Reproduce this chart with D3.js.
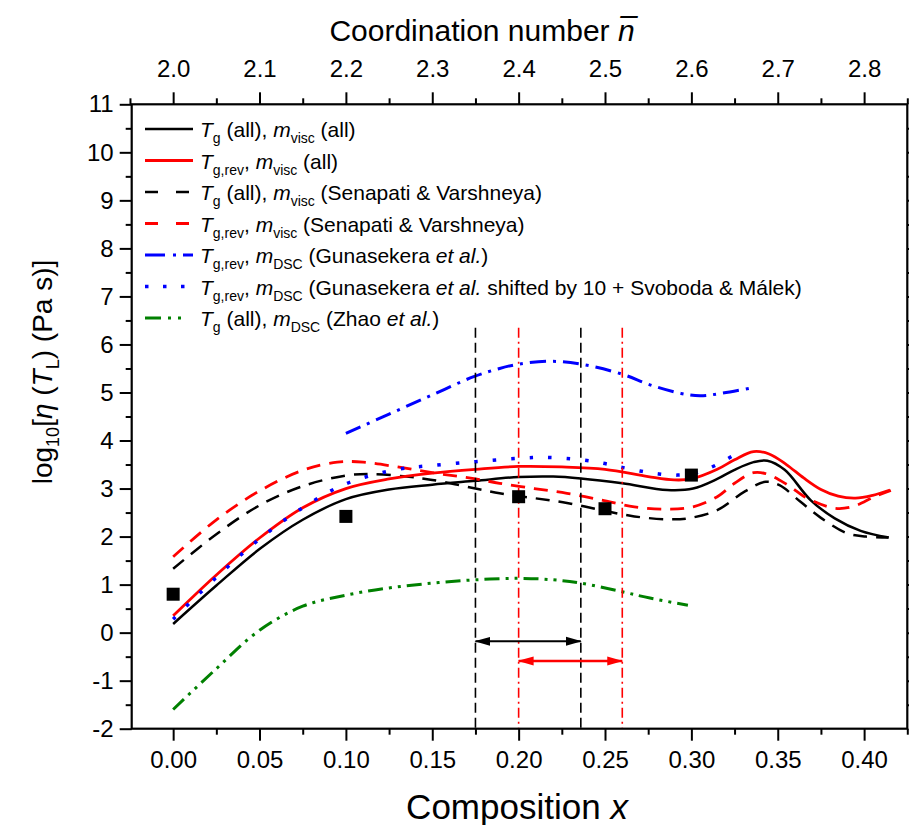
<!DOCTYPE html>
<html><head><meta charset="utf-8">
<script src="https://cdn.jsdelivr.net/npm/d3@7"></script>
<style>
body{margin:0;background:#fff;}
text{font-family:Arial,"Liberation Sans",sans-serif;fill:#000;}
</style></head>
<body><svg id="c" width="909" height="825"></svg>
<script>
// ---- data ----
const xTicks = [0.00,0.05,0.10,0.15,0.20,0.25,0.30,0.35,0.40];
const nTicks = [2.0,2.1,2.2,2.3,2.4,2.5,2.6,2.7,2.8];
const yTicks = [-2,-1,0,1,2,3,4,5,6,7,8,9,10,11];

const tgAllViscAll = [[0,0.18],[0.025,0.98],[0.05,1.74],[0.075,2.35],[0.1,2.78],[0.125,2.98],[0.15,3.08],[0.175,3.16],[0.2,3.24],[0.22,3.25],[0.236,3.21],[0.26,3.11],[0.286,2.97],[0.301,3.0],[0.315,3.2],[0.325,3.39],[0.336,3.55],[0.344,3.58],[0.354,3.39],[0.369,2.76],[0.383,2.38],[0.398,2.12],[0.4143,1.98]];
const tgRevViscAll = [[0,0.35],[0.025,1.2],[0.05,1.97],[0.075,2.6],[0.1,3.0],[0.125,3.2],[0.15,3.32],[0.175,3.4],[0.2,3.46],[0.225,3.45],[0.25,3.4],[0.275,3.25],[0.29,3.18],[0.3,3.2],[0.315,3.4],[0.325,3.6],[0.336,3.77],[0.345,3.72],[0.355,3.5],[0.365,3.22],[0.375,2.98],[0.385,2.84],[0.395,2.8],[0.405,2.86],[0.415,2.97]];
const tgAllViscSV = [[0,1.33],[0.025,2.05],[0.05,2.65],[0.075,3.05],[0.1,3.27],[0.115,3.3],[0.135,3.25],[0.15,3.18],[0.175,3.0],[0.189,2.9],[0.209,2.8],[0.228,2.7],[0.248,2.55],[0.267,2.42],[0.286,2.36],[0.298,2.38],[0.315,2.55],[0.331,2.94],[0.343,3.14],[0.351,3.07],[0.363,2.73],[0.375,2.39],[0.39,2.07],[0.401,2.0],[0.414,1.98]];
const tgRevViscSV = [[0,1.58],[0.025,2.35],[0.05,2.95],[0.075,3.38],[0.095,3.55],[0.11,3.55],[0.13,3.45],[0.15,3.33],[0.175,3.2],[0.189,3.11],[0.209,3.0],[0.228,2.9],[0.248,2.76],[0.267,2.62],[0.286,2.57],[0.301,2.62],[0.315,2.83],[0.325,3.11],[0.336,3.33],[0.344,3.3],[0.356,3.07],[0.367,2.8],[0.383,2.59],[0.394,2.63],[0.406,2.83],[0.4155,2.96]];
const tgRevDscGun = [[0.1,4.15],[0.125,4.55],[0.15,4.95],[0.174,5.33],[0.189,5.5],[0.2,5.59],[0.218,5.65],[0.236,5.59],[0.26,5.38],[0.276,5.16],[0.294,4.98],[0.305,4.93],[0.317,4.98],[0.334,5.09]];
const tgRevDscGunShift = [[0,0.28],[0.025,1.15],[0.05,1.95],[0.075,2.6],[0.1,3.1],[0.13,3.4],[0.15,3.48],[0.175,3.56],[0.2,3.63],[0.215,3.65],[0.236,3.6],[0.25,3.52],[0.26,3.44],[0.276,3.33],[0.292,3.28],[0.305,3.35],[0.317,3.54],[0.328,3.77]];
const tgAllDscZhao = [[0,-1.6],[0.025,-0.75],[0.05,0.05],[0.075,0.55],[0.1,0.78],[0.125,0.93],[0.15,1.03],[0.175,1.1],[0.2,1.13],[0.22,1.1],[0.236,1.03],[0.26,0.85],[0.276,0.72],[0.298,0.57]];
const expPoints = [[0,0.8],[0.1,2.42],[0.2,2.83],[0.25,2.58],[0.3,3.28]];
const rangeBlack = [0.175,0.236];
const rangeRed = [0.2,0.26];
const arrowLevels = [-0.18,-0.59];
const guideTop = 6.35;

// ---- layout ----
const L=131.7, R=907.3, T=104.3, B=728.7;
const svg=d3.select("#c");
const x=d3.scaleLinear().domain([-0.024,0.425]).range([L,R]);
const n=d3.scaleLinear().domain([2-0.048,2.85]).range([L,R]);
const y=d3.scaleLinear().domain([-2,11]).range([B,T]);

const defs=svg.append("defs");
function mk(id,color){
  defs.append("marker").attr("id",id).attr("viewBox","0 0 16 10").attr("refX",15).attr("refY",5)
   .attr("markerUnits","userSpaceOnUse").attr("markerWidth",16).attr("markerHeight",10).attr("orient","auto-start-reverse")
   .append("path").attr("d","M0,0.5 L16,5 L0,9.5 Z").attr("fill",color);
}
mk("ab","#000"); mk("ar","#ff0000");

const series=[
 {d:tgAllViscAll,c:"#000",w:2.5,da:null},
 {d:tgAllViscSV,c:"#000",w:2.5,da:"14,9"},
 {d:tgRevViscSV,c:"#ff0000",w:2.8,da:"14,9"},
 {d:tgRevDscGun,c:"#0000ff",w:3,da:"16,7,3,7"},
 {d:tgAllDscZhao,c:"#008000",w:3,da:"15,6,3,6,3,6"},
 {d:tgRevViscAll,c:"#ff0000",w:2.8,da:null},
 {d:tgRevDscGunShift,c:"#0000ff",w:3.5,da:"3.5,15"}
];
const line=d3.line().x(d=>x(d[0])).y(d=>y(d[1])).curve(d3.curveCatmullRom.alpha(0.5));
const g=svg.append("g");
series.forEach(s=>{
  g.append("path").attr("d",line(s.d)).attr("fill","none").attr("stroke",s.c)
   .attr("stroke-width",s.w).attr("stroke-dasharray",s.da);
});

// guide lines
[rangeBlack[0],rangeBlack[1]].forEach(v=>{
  g.append("line").attr("x1",x(v)).attr("x2",x(v)).attr("y1",y(guideTop)).attr("y2",B)
   .attr("stroke","#000").attr("stroke-width",1.6).attr("stroke-dasharray","10,5");
});
[rangeRed[0],rangeRed[1]].forEach(v=>{
  g.append("line").attr("x1",x(v)).attr("x2",x(v)).attr("y1",y(guideTop)).attr("y2",B)
   .attr("stroke","#ff0000").attr("stroke-width",1.6).attr("stroke-dasharray","10,4,2,4");
});
// arrows
g.append("line").attr("x1",x(rangeBlack[0])).attr("x2",x(rangeBlack[1])).attr("y1",y(arrowLevels[0])).attr("y2",y(arrowLevels[0]))
 .attr("stroke","#000").attr("stroke-width",2).attr("marker-start","url(#ab)").attr("marker-end","url(#ab)");
g.append("line").attr("x1",x(rangeRed[0])).attr("x2",x(rangeRed[1])).attr("y1",y(arrowLevels[1])).attr("y2",y(arrowLevels[1]))
 .attr("stroke","#ff0000").attr("stroke-width",2.5).attr("marker-start","url(#ar)").attr("marker-end","url(#ar)");

// squares
g.selectAll("rect.p").data(expPoints).enter().append("rect").attr("class","p")
 .attr("x",d=>x(d[0])-6.5).attr("y",d=>y(d[1])-6.5).attr("width",13).attr("height",13).attr("fill","#000");

// ---- axes ----
function range(a,b,s){const r=[];for(let v=a;v<=b+1e-9;v+=s)r.push(+v.toFixed(4));return r;}
const ax=svg.append("g");
const tickStyle=sel=>{sel.select(".domain").remove();sel.selectAll("line").attr("stroke","#000").attr("stroke-width",2);
  sel.selectAll("text").style("font-size","24px").style("font-family","Arial, 'Liberation Sans', sans-serif");};
// bottom
ax.append("g").attr("transform",`translate(0,${B})`).call(d3.axisBottom(x).tickValues(range(-0.0,0.425,0.025).filter(v=>Math.abs(v/0.05-Math.round(v/0.05))>0.01)).tickSize(6).tickFormat("")).call(tickStyle);
ax.append("g").attr("transform",`translate(0,${B})`).call(d3.axisBottom(x).tickValues(xTicks).tickSize(12).tickPadding(10).tickFormat(d3.format(".2f"))).call(tickStyle);
// top
ax.append("g").attr("transform",`translate(0,${T})`).call(d3.axisTop(n).tickValues(range(1.95,2.85,0.1)).tickSize(6).tickFormat("")).call(tickStyle);
ax.append("g").attr("transform",`translate(0,${T})`).call(d3.axisTop(n).tickValues(nTicks).tickSize(12).tickPadding(15).tickFormat(d3.format(".1f"))).call(tickStyle);
// left
ax.append("g").attr("transform",`translate(${L},0)`).call(d3.axisLeft(y).tickValues(range(-1.5,10.5,1)).tickSize(6).tickFormat("")).call(tickStyle);
ax.append("g").attr("transform",`translate(${L},0)`).call(d3.axisLeft(y).tickValues(yTicks).tickSize(12).tickPadding(6).tickFormat(v=>String(v))).call(tickStyle);
// right
ax.append("g").attr("transform",`translate(${R},0)`).call(d3.axisRight(y).tickValues(range(-1.5,10.5,0.5)).tickSize(6).tickFormat("")).call(tickStyle);
// frame
ax.append("rect").attr("x",L).attr("y",T).attr("width",R-L).attr("height",B-T).attr("fill","none").attr("stroke","#000").attr("stroke-width",2.2);

// titles
const bt=svg.append("text").attr("x",517).attr("y",819).attr("text-anchor","middle").style("font-size","35px");
bt.append("tspan").text("Composition ");
bt.append("tspan").style("font-style","italic").text("x");

const tt=svg.append("text").attr("x",482).attr("y",41).attr("text-anchor","middle").style("font-size","30px");
tt.append("tspan").text("Coordination number ");
tt.append("tspan").style("font-style","italic").text("n\u0305");

const yt=svg.append("text").attr("transform","translate(52,372) rotate(-90)").attr("text-anchor","middle").style("font-size","28px");
yt.append("tspan").text("log");
yt.append("tspan").attr("dy",7).style("font-size","18px").text("10");
yt.append("tspan").attr("dy",-7).text("[");
yt.append("tspan").style("font-style","italic").text("\u03b7");
yt.append("tspan").text(" (");
yt.append("tspan").style("font-style","italic").text("T");
yt.append("tspan").attr("dy",7).style("font-size","18px").text("L");
yt.append("tspan").attr("dy",-7).text(") (Pa s)]");

// ---- legend ----
const legend=[
 {c:"#000",w:2.5,da:null,parts:[["T","i"],["g","s"],[" (all), ",""],["m","i"],["visc","s"],[" (all)",""]]},
 {c:"#ff0000",w:3,da:null,parts:[["T","i"],["g,rev","s"],[", ",""],["m","i"],["visc","s"],[" (all)",""]]},
 {c:"#000",w:2.5,da:"13,18",parts:[["T","i"],["g","s"],[" (all), ",""],["m","i"],["visc","s"],[" (Senapati & Varshneya)",""]]},
 {c:"#ff0000",w:3,da:"13,18",parts:[["T","i"],["g,rev","s"],[", ",""],["m","i"],["visc","s"],[" (Senapati & Varshneya)",""]]},
 {c:"#0000ff",w:3,da:"20,8,3,7",parts:[["T","i"],["g,rev","s"],[", ",""],["m","i"],["DSC","s"],[" (Gunasekera ",""],["et al.","i"],[")",""]]},
 {c:"#0000ff",w:3.5,da:"3.5,14.5",parts:[["T","i"],["g,rev","s"],[", ",""],["m","i"],["DSC","s"],[" (Gunasekera ",""],["et al.","i"],[" shifted by 10 + Svoboda & Málek)",""]]},
 {c:"#008000",w:3,da:"16,7,3,7,3,12",parts:[["T","i"],["g","s"],[" (all), ",""],["m","i"],["DSC","s"],[" (Zhao ",""],["et al.","i"],[")",""]]}
];
const lg=svg.append("g");
legend.forEach((e,i)=>{
  const yy=129+i*31.5;
  lg.append("line").attr("x1",145).attr("x2",193).attr("y1",yy).attr("y2",yy).attr("stroke",e.c)
    .attr("stroke-width",e.w).attr("stroke-dasharray",e.da);
  const t=lg.append("text").attr("x",200).attr("y",yy+8).style("font-size","21px");
  let sub=false;
  e.parts.forEach(p=>{
    const ts=t.append("tspan").text(p[0]);
    if(p[1]==="i") ts.style("font-style","italic");
    if(p[1]==="s"){ts.style("font-size","14px").attr("dy",sub?0:6);sub=true;}
    else if(sub){ts.attr("dy",-6);sub=false;}
  });
});
</script></body></html>
